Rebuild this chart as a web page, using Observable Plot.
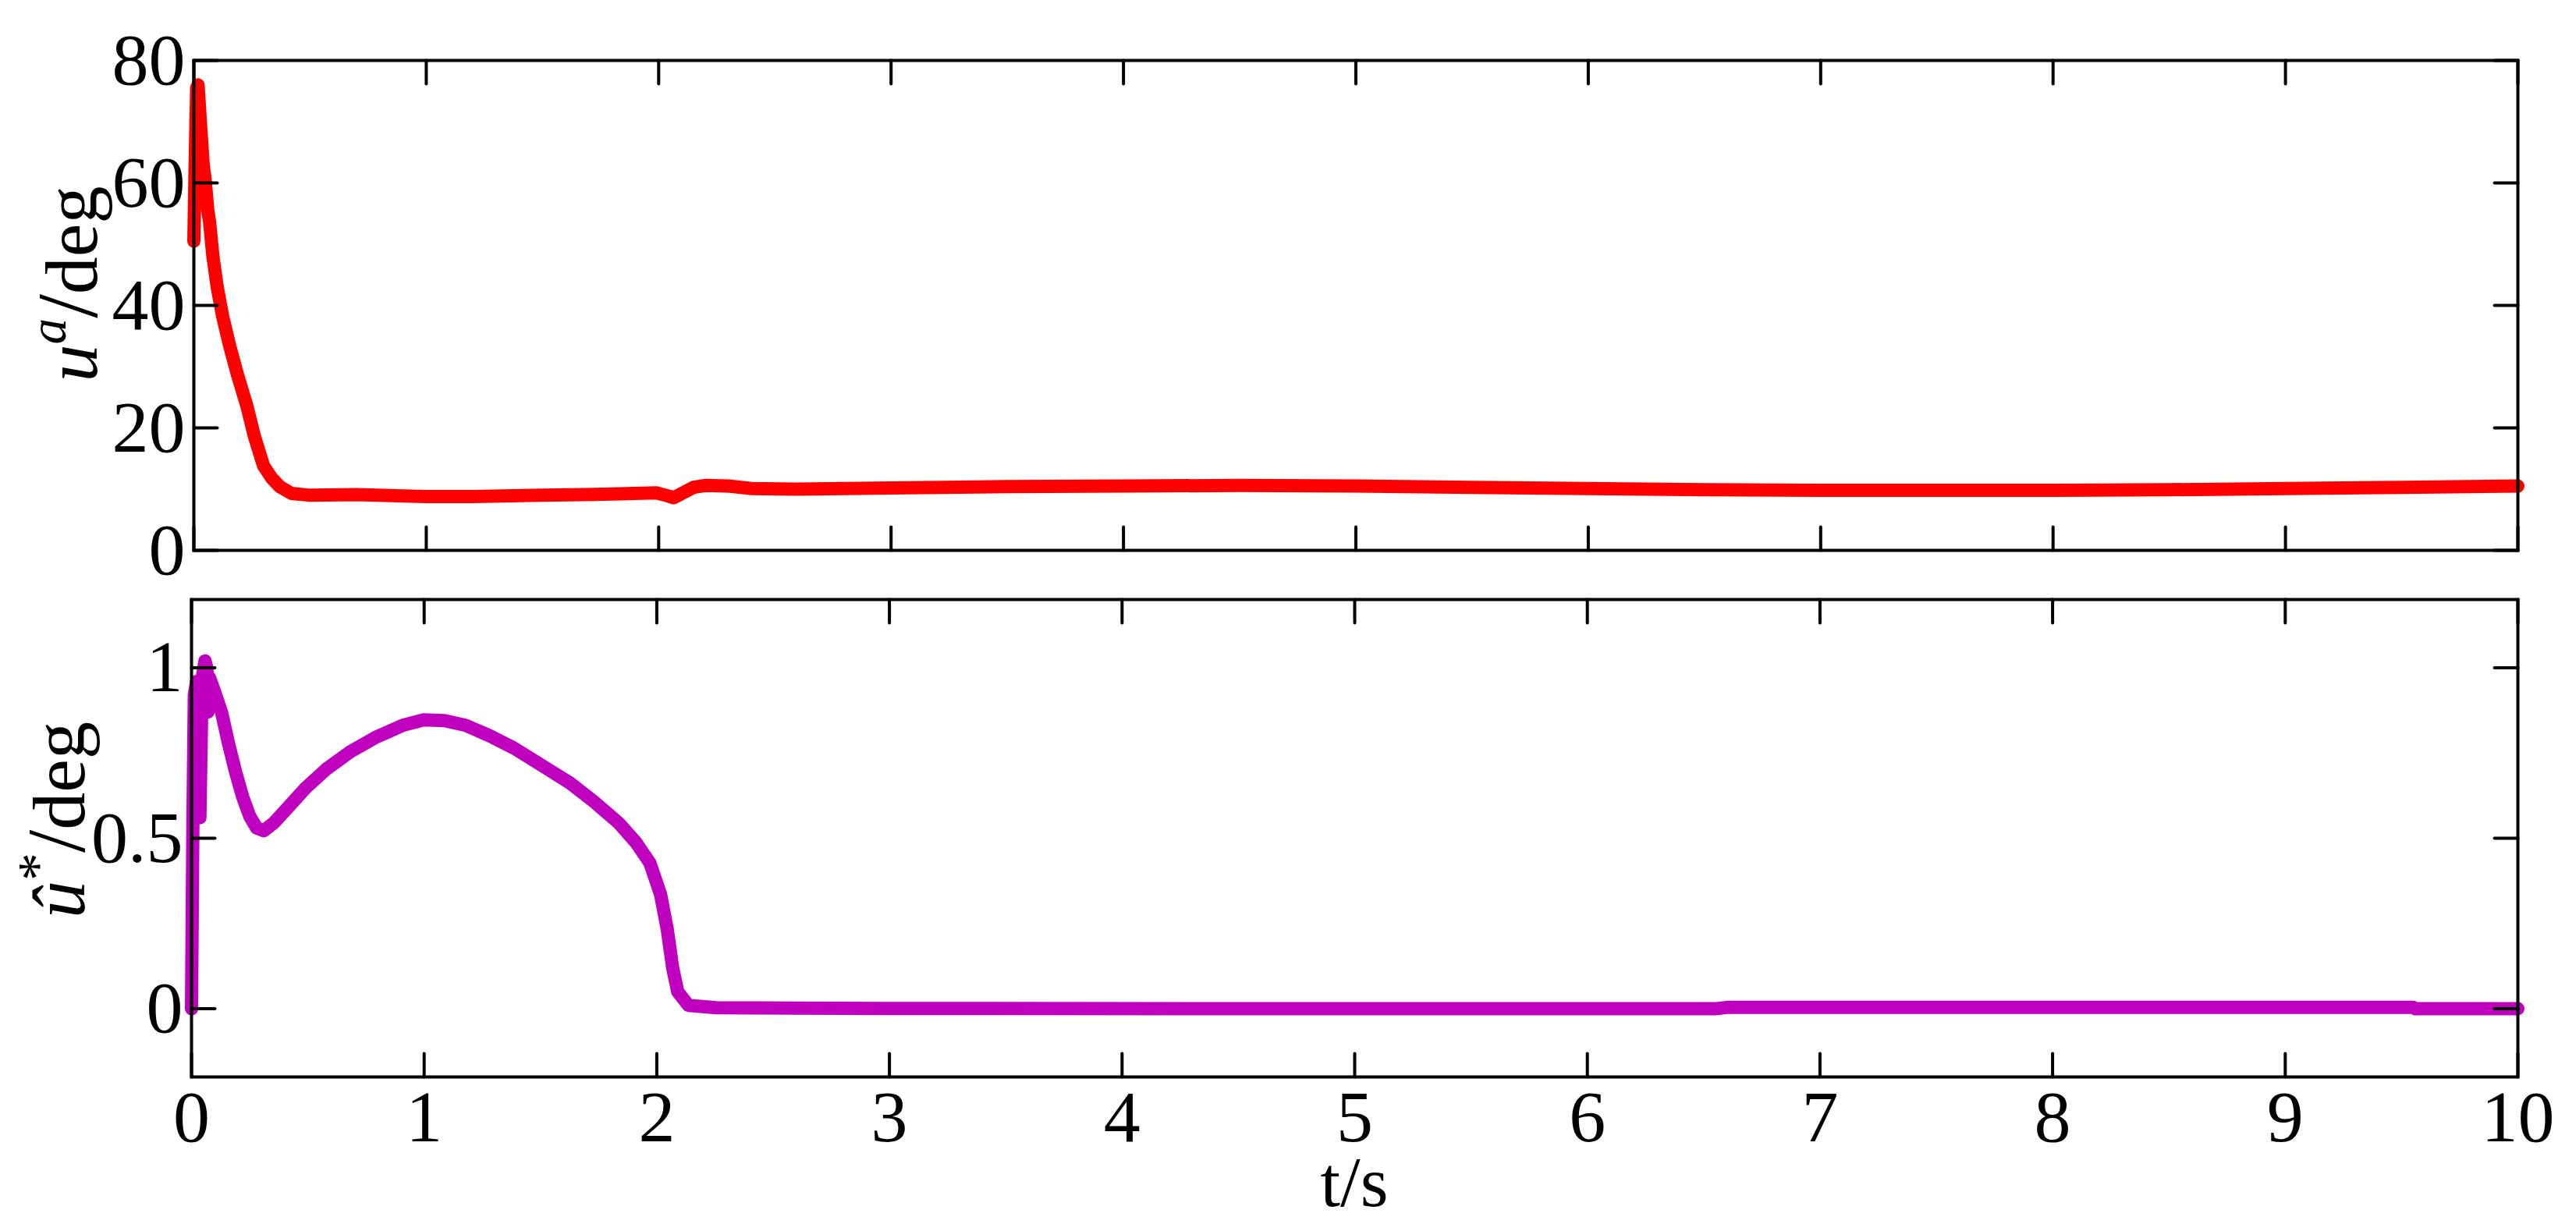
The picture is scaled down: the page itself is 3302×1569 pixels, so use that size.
<!DOCTYPE html>
<html>
<head>
<meta charset="utf-8">
<script src="https://cdn.jsdelivr.net/npm/d3@7"></script>
<script src="https://cdn.jsdelivr.net/npm/@observablehq/plot@0.6"></script>
<style>
  html, body { margin: 0; padding: 0; background: #fff; }
  #chart { width: 3302px; height: 1569px; background: #fff; overflow: hidden; }
  #chart svg { display: block; }
</style>
</head>
<body>
<div id="chart"></div>
<script>
// ---------- data ----------
const xTicks = [0, 1, 2, 3, 4, 5, 6, 7, 8, 9, 10];
const topTicks = [0, 20, 40, 60, 80];
const bottomTicks = [0, 0.5, 1];

// top panel: u^a (deg)
const tTop = [0.000, 0.005, 0.012, 0.018, 0.028, 0.040, 0.047, 0.052, 0.060, 0.068, 0.082, 0.100, 0.124, 0.154, 0.189, 0.228, 0.260, 0.300, 0.335, 0.370, 0.420, 0.500, 0.700, 1.000, 1.200, 1.500, 1.800, 1.990, 2.030, 2.065, 2.100, 2.150, 2.200, 2.300, 2.400, 2.600, 3.000, 3.500, 4.000, 4.500, 5.000, 5.500, 6.000, 6.500, 7.000, 7.500, 8.000, 8.500, 9.000, 9.500, 10.000];
const uTop = [50.5, 62, 75.5, 76, 70, 63, 61, 59, 55.5, 53.5, 48, 43.1, 38.2, 33.4, 28.5, 23.6, 18.7, 13.8, 11.8, 10.4, 9.3, 9.0, 9.1, 8.8, 8.8, 9.0, 9.2, 9.4, 9.0, 8.6, 9.3, 10.3, 10.6, 10.5, 10.1, 10.0, 10.2, 10.4, 10.5, 10.6, 10.5, 10.3, 10.1, 9.9, 9.8, 9.8, 9.8, 9.9, 10.1, 10.3, 10.5];

// bottom panel: û* (deg)
const tBot = [0.000, 0.006, 0.012, 0.022, 0.030, 0.036, 0.046, 0.058, 0.066, 0.071, 0.078, 0.100, 0.130, 0.160, 0.190, 0.220, 0.250, 0.280, 0.310, 0.354, 0.414, 0.490, 0.580, 0.684, 0.789, 0.908, 0.998, 1.088, 1.178, 1.283, 1.387, 1.507, 1.627, 1.732, 1.836, 1.910, 1.970, 2.016, 2.045, 2.068, 2.090, 2.136, 2.255, 3.000, 5.000, 6.550, 6.600, 9.550, 9.560, 10.000];
const uBot = [0.00, 0.55, 0.92, 0.96, 0.95, 0.56, 0.97, 1.02, 1.00, 0.87, 0.97, 0.928, 0.867, 0.775, 0.693, 0.621, 0.565, 0.530, 0.522, 0.545, 0.590, 0.647, 0.703, 0.754, 0.795, 0.831, 0.847, 0.845, 0.831, 0.800, 0.764, 0.713, 0.662, 0.606, 0.545, 0.488, 0.428, 0.336, 0.233, 0.121, 0.050, 0.010, 0.003, 0.001, 0.000, 0.000, 0.004, 0.004, 0.000, 0.000];

// ---------- styling ----------
const FONT = '"Liberation Serif", "Times New Roman", Times, serif';
const TICK_FS = 94;
const LABEL_FS = 96;
const W = 3302;
const tickShape = {draw(ctx, l) { ctx.moveTo(0, 0); ctx.lineTo(0, -l); }};

function innerTicks(xs, ys, len) {
  const common = {length: len, anchor: "start", shape: tickShape, stroke: "black", strokeWidth: 4};
  return [
    Plot.vector(xs, {x: d => d, frameAnchor: "bottom", rotate: 0, ...common}),
    Plot.vector(xs, {x: d => d, frameAnchor: "top", rotate: 180, ...common}),
    Plot.vector(ys, {y: d => d, frameAnchor: "left", rotate: 90, ...common}),
    Plot.vector(ys, {y: d => d, frameAnchor: "right", rotate: -90, ...common})
  ];
}

const topData = tTop.map((t, i) => ({t, v: uTop[i]}));
const botData = tBot.map((t, i) => ({t, v: uBot[i]}));

const plotTop = Plot.plot({
  width: W, height: 737,
  marginTop: 77, marginBottom: 32, marginLeft: 248, marginRight: 75,
  style: {fontFamily: FONT, background: "white", overflow: "visible"},
  x: {domain: [0, 10], axis: null},
  y: {domain: [0, 80], axis: null},
  marks: [
    Plot.line(topData, {x: "t", y: "v", stroke: "#ff0000", strokeWidth: 17}),
    Plot.frame({stroke: "black", strokeWidth: 4}),
    ...innerTicks(xTicks, topTicks, 30),
    Plot.axisY(topTicks, {tickSize: 0, tickPadding: 11, fontSize: TICK_FS, label: null, fill: "black", tickFormat: d => String(d)})
  ]
});

const plotBot = Plot.plot({
  width: W, height: 832,
  marginTop: 31, marginBottom: 189, marginLeft: 245, marginRight: 75,
  style: {fontFamily: FONT, background: "transparent", overflow: "visible"},
  x: {domain: [0, 10], axis: null},
  y: {domain: [-0.2, 1.2], axis: null},
  marks: [
    Plot.line(botData, {x: "t", y: "v", stroke: "#bf00bf", strokeWidth: 17}),
    Plot.frame({stroke: "black", strokeWidth: 4}),
    ...innerTicks(xTicks, bottomTicks, 30),
    Plot.axisY(bottomTicks, {tickSize: 0, tickPadding: 11, fontSize: TICK_FS, label: null, fill: "black", tickFormat: d => String(d)}),
    Plot.axisX(xTicks, {tickSize: 0, tickPadding: 16, fontSize: TICK_FS, label: null, fill: "black", tickFormat: d => String(d)})
  ]
});

const chart = document.getElementById("chart");
chart.appendChild(plotTop);
chart.appendChild(plotBot);

// ---------- axis labels (rich text) ----------
const s1 = d3.select(plotTop);
const yl1 = s1.append("text")
  .attr("transform", "translate(124,364) rotate(-90)")
  .attr("text-anchor", "middle")
  .attr("font-family", FONT).attr("font-size", LABEL_FS).attr("fill", "black");
yl1.append("tspan").attr("font-style", "italic").text("u");
yl1.append("tspan").attr("font-style", "italic").attr("font-size", LABEL_FS * 0.7).attr("dy", -LABEL_FS * 0.42).text("a");
yl1.append("tspan").attr("font-size", LABEL_FS * 1.15).attr("dy", LABEL_FS * 0.42).text("/");
yl1.append("tspan").text("deg");

const s2 = d3.select(plotBot);
const yl2 = s2.append("text")
  .attr("transform", "translate(108,314) rotate(-90)")
  .attr("text-anchor", "middle")
  .attr("font-family", FONT).attr("font-size", LABEL_FS).attr("fill", "black");
yl2.append("tspan").attr("font-style", "italic").text("û");
yl2.append("tspan").attr("font-size", LABEL_FS * 0.75).attr("dy", -LABEL_FS * 0.38).text("*");
yl2.append("tspan").attr("font-size", LABEL_FS * 1.1).attr("dy", LABEL_FS * 0.38).text("/");
yl2.append("tspan").text("deg");

s2.append("text")
  .attr("x", 1736).attr("y", 809)
  .attr("text-anchor", "middle")
  .attr("font-family", FONT).attr("font-size", 92).attr("fill", "black")
  .text("t/s");
</script>
</body>
</html>
